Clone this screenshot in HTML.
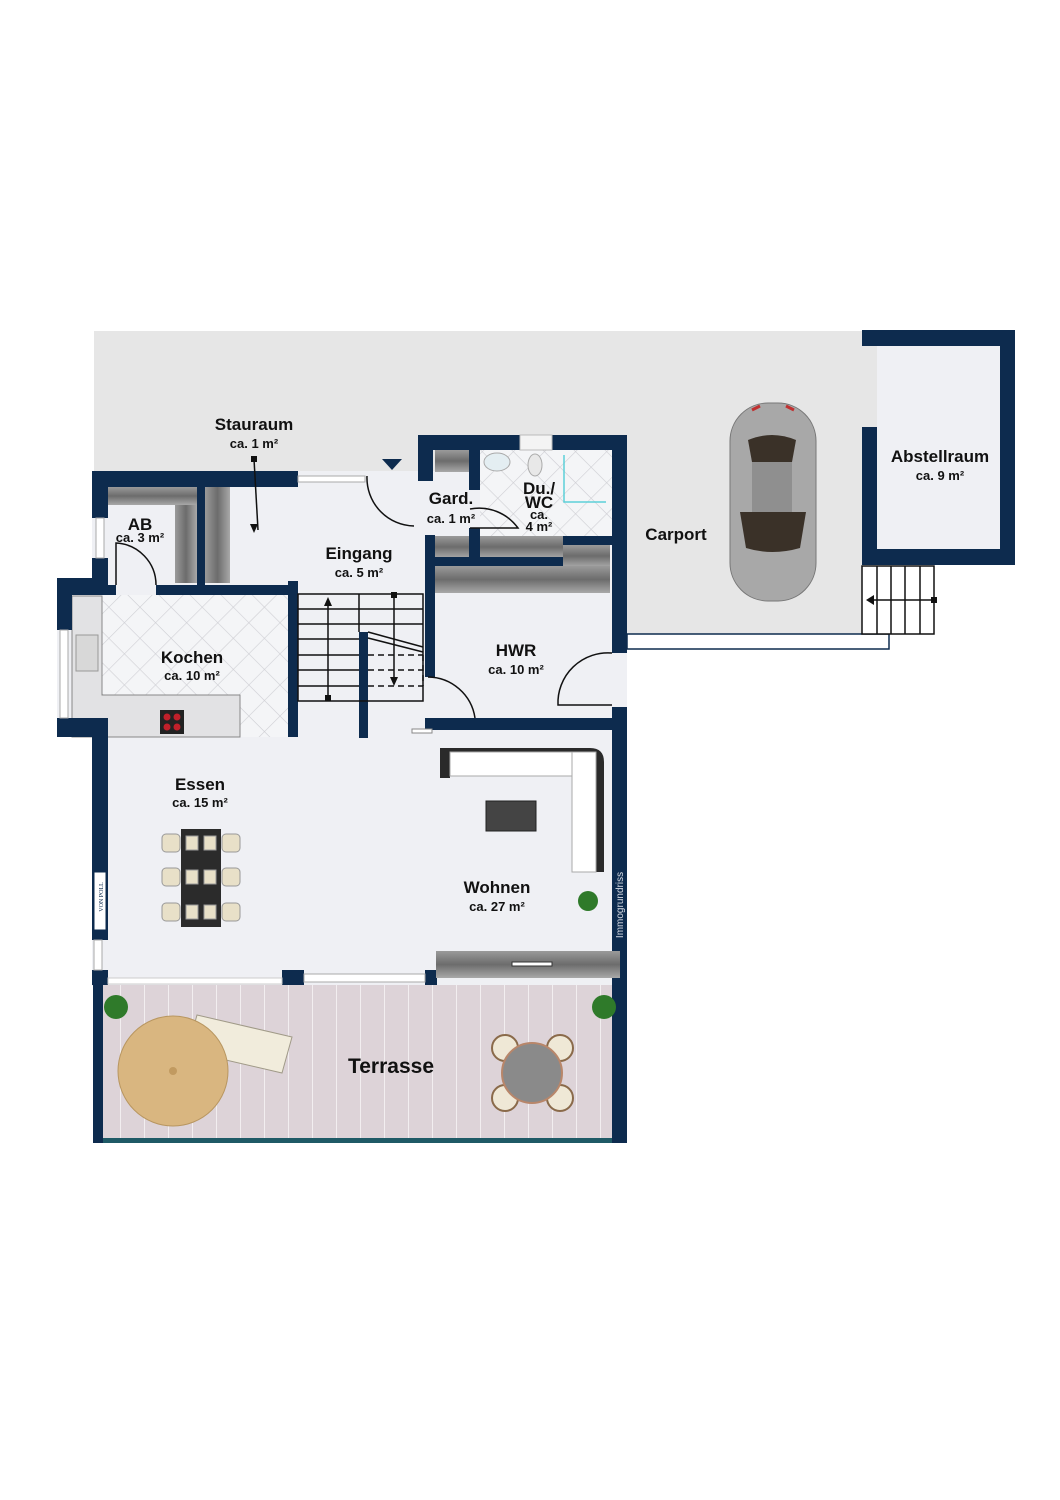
<!DOCTYPE html>
<html><head><meta charset="utf-8"><style>
html,body{margin:0;padding:0;background:#fff;}
svg{display:block}
text{font-family:"Liberation Sans",Arial,sans-serif;font-weight:bold;fill:#111;text-anchor:middle}
</style></head><body>
<svg width="1060" height="1500" viewBox="0 0 1060 1500" xmlns="http://www.w3.org/2000/svg">
<defs>
<pattern id="tile" width="22" height="22" patternUnits="userSpaceOnUse" patternTransform="rotate(45)">
<rect width="22" height="22" fill="#f4f5f7"/><path d="M0 0H22M0 0V22" stroke="#cfcfd4" stroke-width="1.2"/>
</pattern>
<pattern id="deck" width="24" height="160" patternUnits="userSpaceOnUse">
<rect width="24" height="160" fill="#ddd3d8"/><path d="M0 0V160" stroke="#f2eef0" stroke-width="2"/>
</pattern>
<linearGradient id="wood" x1="0" y1="0" x2="0" y2="1"><stop offset="0" stop-color="#9a9a9a"/><stop offset=".5" stop-color="#6c6c6c"/><stop offset="1" stop-color="#a8a8a8"/></linearGradient>
<linearGradient id="woodv" x1="0" y1="0" x2="1" y2="0"><stop offset="0" stop-color="#9a9a9a"/><stop offset=".5" stop-color="#6c6c6c"/><stop offset="1" stop-color="#a8a8a8"/></linearGradient>
</defs>
<rect x="94" y="331" width="768" height="150" fill="#e6e6e6"/>
<rect x="627" y="331" width="235" height="303" fill="#e6e6e6"/>
<rect x="627" y="634" width="262" height="15" fill="#fff" stroke="#0d2b4e" stroke-width="1.5"/>
<rect x="862" y="330" width="153" height="235" fill="#0d2b4e"/>
<rect x="877" y="346" width="123" height="203" fill="#eff0f4"/>
<rect x="862" y="346" width="15" height="81" fill="#e6e6e6"/>
<g stroke="#111" stroke-width="1.5" fill="#fff">
<rect x="862" y="566" width="72" height="68"/>
<path d="M877 566V634M891 566V634M905 566V634M920 566V634"/>
<path d="M934 600H870" fill="none"/>
</g>
<path d="M866 600l8-5v10z" fill="#111"/><rect x="931" y="597" width="6" height="6" fill="#111"/>
<rect x="92" y="471" width="535" height="515" fill="#eff0f4"/>
<rect x="57" y="578" width="51" height="159" fill="#eff0f4"/>
<rect x="102" y="595" width="188" height="142" fill="url(#tile)"/>
<rect x="480" y="450" width="132" height="90" fill="url(#tile)"/>
<path d="M72 596H102V695H240V737H72Z" fill="#e2e2e4" stroke="#888" stroke-width="1"/>
<rect x="76" y="635" width="22" height="36" fill="#d8d8d8" stroke="#999"/>
<rect x="160" y="710" width="24" height="24" fill="#222"/>
<g fill="#c0202a"><circle cx="167" cy="717" r="3.5"/><circle cx="177" cy="717" r="3.5"/><circle cx="167" cy="727" r="3.5"/><circle cx="177" cy="727" r="3.5"/></g>
<rect x="108" y="487" width="89" height="18" fill="url(#wood)"/>
<rect x="175" y="505" width="22" height="78" fill="url(#woodv)"/>
<rect x="205" y="487" width="25" height="96" fill="url(#woodv)"/>
<rect x="435" y="450" width="34" height="22" fill="url(#wood)"/>
<rect x="435" y="536" width="34" height="22" fill="url(#wood)"/>
<rect x="480" y="536" width="83" height="22" fill="url(#wood)"/>
<rect x="563" y="545" width="47" height="22" fill="url(#wood)"/>
<rect x="435" y="566" width="175" height="27" fill="url(#wood)"/>
<ellipse cx="497" cy="462" rx="13" ry="9" fill="#e4eef2" stroke="#aaa"/>
<ellipse cx="535" cy="465" rx="7" ry="11" fill="#e8e8e8" stroke="#aaa"/>
<path d="M564 455V502H606" fill="none" stroke="#5cd0d8" stroke-width="1.5"/>
<rect x="93" y="985" width="534" height="158" fill="url(#deck)"/>
<rect x="93" y="1138" width="534" height="5" fill="#1f5a66"/>
<g fill="#0d2b4e">
<rect x="92" y="471" width="206" height="16"/>
<rect x="92" y="471" width="16" height="47"/>
<rect x="92" y="558" width="16" height="22"/>
<rect x="57" y="578" width="51" height="17"/>
<rect x="57" y="578" width="15" height="52"/>
<rect x="57" y="718" width="51" height="19"/>
<rect x="92" y="718" width="16" height="222"/>
<rect x="108" y="585" width="8" height="10"/>
<rect x="156" y="585" width="142" height="10"/>
<rect x="197" y="487" width="8" height="98"/>
<rect x="288" y="581" width="10" height="156"/>
<rect x="359" y="632" width="9" height="106"/>
<rect x="418" y="435" width="209" height="15"/>
<rect x="418" y="435" width="15" height="46"/>
<rect x="425" y="535" width="10" height="142"/>
<rect x="469" y="450" width="11" height="40"/>
<rect x="469" y="528" width="11" height="30"/>
<rect x="425" y="557" width="138" height="9"/>
<rect x="563" y="536" width="49" height="9"/>
<rect x="612" y="435" width="15" height="218"/>
<rect x="612" y="707" width="15" height="436"/>
<rect x="425" y="718" width="187" height="12"/>
<rect x="92" y="970" width="16" height="15"/>
<rect x="282" y="970" width="22" height="15"/>
<rect x="425" y="970" width="12" height="15"/>
<rect x="93" y="985" width="10" height="158"/>
<rect x="616" y="985" width="11" height="158"/>
</g>
<rect x="520" y="435" width="32" height="15" fill="#f4f4f4" stroke="#bbb"/>
<rect x="298" y="476" width="67" height="6" fill="#fff" stroke="#aaa"/>
<rect x="96" y="518" width="8" height="40" fill="#fff" stroke="#aaa"/>
<rect x="60" y="630" width="8" height="88" fill="#fff" stroke="#aaa"/>
<rect x="94" y="940" width="8" height="30" fill="#fff" stroke="#aaa"/>
<rect x="108" y="978" width="174" height="6" fill="#fff" stroke="#ccc"/>
<rect x="304" y="974" width="121" height="8" fill="#fff" stroke="#aaa"/>
<rect x="412" y="729" width="20" height="4" fill="#fff" stroke="#888"/>
<g fill="none" stroke="#111" stroke-width="1.5">
<path d="M116 585V543A42 42 0 0 1 156 585"/>
<path d="M367 476A48 48 0 0 0 414 526"/>
<path d="M470 509A48 48 0 0 1 518 528H470"/>
<path d="M428 677A48 48 0 0 1 475 718"/>
<path d="M612 653A50 50 0 0 0 558 705H612"/>
</g>
<path d="M382 459h20l-10 11z" fill="#0d2b4e"/>
<path d="M254 459L258 530" stroke="#111" stroke-width="1.5"/>
<rect x="251" y="456" width="6" height="6" fill="#111"/><path d="M254 533l-4-9h8z" fill="#111"/>
<g stroke="#111" stroke-width="1.5" fill="none">
<rect x="298" y="594" width="125" height="107"/>
<path d="M298 609H423M298 624H423M298 639H359M298 655H359M298 670H359M298 686H359M359 594V632"/>
<path d="M368 632L423 647M368 638L423 652"/>
<path d="M368 655H423M368 670H423M368 686H423M423 655V686" stroke-dasharray="6 4"/>
<path d="M328 698V602M394 597V682"/>
</g>
<path d="M328 597l-4 9h8z M394 686l-4-9h8z" fill="#111"/>
<rect x="325" y="695" width="6" height="6" fill="#111"/><rect x="391" y="592" width="6" height="6" fill="#111"/>
<path d="M440 748H590Q604 748 604 762V872H590V760H450V778H440Z" fill="#2a2a2a"/>
<rect x="450" y="752" width="122" height="24" fill="#fff" stroke="#aaa"/>
<rect x="572" y="752" width="24" height="120" fill="#fff" stroke="#aaa"/>
<rect x="486" y="801" width="50" height="30" fill="#444" stroke="#222"/>
<rect x="181" y="829" width="40" height="98" fill="#2b2b2b"/>
<g fill="#e8e0c8" stroke="#999"><rect x="162" y="834" width="18" height="18" rx="4"/><rect x="162" y="868" width="18" height="18" rx="4"/><rect x="162" y="903" width="18" height="18" rx="4"/><rect x="222" y="834" width="18" height="18" rx="4"/><rect x="222" y="868" width="18" height="18" rx="4"/><rect x="222" y="903" width="18" height="18" rx="4"/>
<rect x="186" y="836" width="12" height="14"/><rect x="204" y="836" width="12" height="14"/><rect x="186" y="870" width="12" height="14"/><rect x="204" y="870" width="12" height="14"/><rect x="186" y="905" width="12" height="14"/><rect x="204" y="905" width="12" height="14"/></g>
<rect x="436" y="951" width="184" height="27" fill="url(#wood)"/>
<rect x="512" y="962" width="40" height="4" fill="#fff" stroke="#333"/>
<g fill="#2f7a2a"><circle cx="588" cy="901" r="10"/><circle cx="116" cy="1007" r="12"/><circle cx="604" cy="1007" r="12"/></g>
<path d="M197 1015l95 22-10 36-95-22z" fill="#f1ecdc" stroke="#a09a88"/>
<circle cx="173" cy="1071" r="55" fill="#d9b680" stroke="#b89660"/>
<circle cx="173" cy="1071" r="4" fill="#c19a60"/>
<g fill="#efe8d6" stroke="#8a6a4a" stroke-width="2"><circle cx="505" cy="1048" r="13"/><circle cx="560" cy="1048" r="13"/><circle cx="505" cy="1098" r="13"/><circle cx="560" cy="1098" r="13"/></g>
<circle cx="532" cy="1073" r="30" fill="#8a8a8a" stroke="#b8866a" stroke-width="2"/>
<text x="0" y="0" transform="translate(623 905) rotate(-90)" style="font-weight:normal;font-size:10px;fill:#d8dce4">Immogrundriss</text>
<rect x="94" y="872" width="12" height="58" fill="#fff" stroke="#0d2b4e"/>
<text x="0" y="0" transform="translate(103 897) rotate(-90)" style="font-weight:normal;font-size:6px;fill:#0d2b4e;font-family:'Liberation Serif',serif">VON POLL</text>
<g font-size="17"><text x="254" y="430">Stauraum</text><text x="140" y="530">AB</text><text x="451" y="504">Gard.</text><text x="539" y="494">Du./</text><text x="539" y="508">WC</text><text x="359" y="559">Eingang</text><text x="192" y="663">Kochen</text><text x="516" y="656">HWR</text><text x="676" y="540">Carport</text><text x="940" y="462">Abstellraum</text><text x="200" y="790">Essen</text><text x="497" y="893">Wohnen</text></g>
<g font-size="13"><text x="254" y="448">ca. 1 m²</text><text x="140" y="542">ca. 3 m²</text><text x="451" y="523">ca. 1 m²</text><text x="539" y="519">ca.</text><text x="539" y="531">4 m²</text><text x="359" y="577">ca. 5 m²</text><text x="192" y="680">ca. 10 m²</text><text x="516" y="674">ca. 10 m²</text><text x="940" y="480">ca. 9 m²</text><text x="200" y="807">ca. 15 m²</text><text x="497" y="911">ca. 27 m²</text></g>
<text x="391" y="1073" font-size="21">Terrasse</text>
<g>
<rect x="730" y="403" width="86" height="198" rx="38" fill="#a8a8a8" stroke="#777"/>
<path d="M748 440Q772 430 796 440L792 462H752Z" fill="#3a3128"/>
<rect x="752" y="462" width="40" height="50" fill="#8f8f8f"/>
<path d="M740 512H806L800 548Q772 556 746 548Z" fill="#3a3128"/>
<path d="M752 410l8-4M786 406l8 4" stroke="#c03030" stroke-width="3"/>
</g>
</svg>
</body></html>
